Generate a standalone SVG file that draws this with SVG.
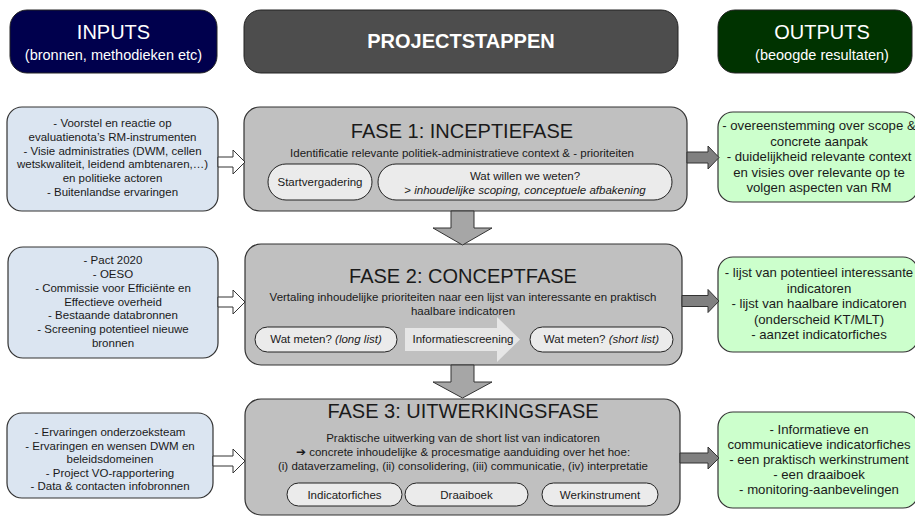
<svg xmlns="http://www.w3.org/2000/svg" width="915" height="517" viewBox="0 0 915 517">
<style>
text{font-family:"Liberation Sans",Arial,sans-serif;fill:#1a1a1a;text-anchor:middle}
.hdr{stroke:#222;stroke-width:1}
.htitle{fill:#fff;font-size:20px}
.hsub{fill:#fff;font-size:14.5px}
.in{fill:#dbe5f1;stroke:#333;stroke-width:1.2}
.out{fill:#ccffcc;stroke:#333;stroke-width:1.2}
.phase{fill:#c0c0c0;stroke:#333;stroke-width:1.2}
.pill{fill:#ebebeb;stroke:#222;stroke-width:1}
.ptitle{font-size:20px}
.psub{font-size:11.5px}
.pt{font-size:11.5px}
.lt{font-size:11.5px}
.rt{font-size:13.2px}
.harrow{fill:#fff;stroke:#333;stroke-width:1}
.rarrow{fill:#808080;stroke:#333;stroke-width:1}
.darrow{fill:#a6a6a6;stroke:#333;stroke-width:1}
</style>
<rect width="915" height="517" fill="#fff"/>

<g id="hdr-inputs">
<rect class="hdr" x="10" y="10" width="207" height="63" rx="17" fill="#00004d"/>
<text class="htitle" x="113.5" y="39">INPUTS</text>
<text class="hsub" x="113.5" y="60">(bronnen, methodieken etc)</text>
</g>
<g id="hdr-project">
<rect class="hdr" x="244" y="10" width="434" height="63" rx="17" fill="#4d4d4d"/>
<text class="htitle" x="461" y="48" font-weight="bold">PROJECTSTAPPEN</text>
</g>
<g id="hdr-outputs">
<rect class="hdr" x="718" y="10" width="194" height="63" rx="17" fill="#003300"/>
<text class="htitle" x="822" y="39">OUTPUTS</text>
<text class="hsub" x="822" y="60">(beoogde resultaten)</text>
</g>

<g id="in1">
<rect class="in" x="7" y="107" width="211" height="104" rx="15"/>
<text class="lt" x="112.5" y="127">- Voorstel en reactie op</text>
<text class="lt" x="112.5" y="141">evaluatienota’s RM-instrumenten</text>
<text class="lt" x="112.5" y="155">- Visie administraties (DWM, cellen</text>
<text class="lt" x="112.5" y="168">wetskwaliteit, leidend ambtenaren,…)</text>
<text class="lt" x="112.5" y="182">en politieke actoren</text>
<text class="lt" x="112.5" y="196">- Buitenlandse ervaringen</text>
</g>
<g id="in2">
<rect class="in" x="8" y="247" width="210" height="111" rx="15"/>
<text class="lt" x="113" y="264">- Pact 2020</text>
<text class="lt" x="113" y="278">- OESO</text>
<text class="lt" x="113" y="292">- Commissie voor Efficiënte en</text>
<text class="lt" x="113" y="305.5">Effectieve overheid</text>
<text class="lt" x="113" y="319">- Bestaande databronnen</text>
<text class="lt" x="113" y="333">- Screening potentieel nieuwe</text>
<text class="lt" x="113" y="346.5">bronnen</text>
</g>
<g id="in3">
<rect class="in" x="7" y="413" width="206" height="85" rx="15"/>
<text class="lt" x="110" y="436">- Ervaringen onderzoeksteam</text>
<text class="lt" x="110" y="449.5">- Ervaringen en wensen DWM en</text>
<text class="lt" x="110" y="463">beleidsdomeinen</text>
<text class="lt" x="110" y="476.5">- Project VO-rapportering</text>
<text class="lt" x="110" y="490">- Data &amp; contacten infobronnen</text>
</g>

<g id="fase1">
<rect class="phase" x="244" y="107" width="443" height="104" rx="16"/>
<text class="ptitle" x="462" y="138">FASE 1: INCEPTIEFASE</text>
<text class="psub" x="462" y="157" font-size="11.3">Identificatie relevante politiek-administratieve context &amp; - prioriteiten</text>
<rect class="pill" x="268" y="164" width="104" height="36" rx="18"/>
<text class="pt" x="320" y="186">Startvergadering</text>
<rect class="pill" x="378" y="164" width="294" height="36" rx="18"/>
<text class="pt" x="525" y="180">Wat willen we weten?</text>
<text class="pt" x="525" y="194">&gt; <tspan font-style="italic">inhoudelijke scoping, conceptuele afbakening</tspan></text>
</g>
<g id="fase2">
<rect class="phase" x="245" y="244" width="437" height="121" rx="16"/>
<text class="ptitle" x="463" y="283">FASE 2: CONCEPTFASE</text>
<text class="psub" x="463" y="301">Vertaling inhoudelijke prioriteiten naar een lijst van interessante en praktisch</text>
<text class="psub" x="463" y="315">haalbare indicatoren</text>
<rect class="pill" x="255" y="327" width="142" height="25" rx="12.5"/>
<text class="pt" x="326" y="343">Wat meten? <tspan font-style="italic">(long list)</tspan></text>
<path d="M405,328 H497 V317 L520,339.5 L497,362 V351 H405 Z" fill="#e6e6e6"/>
<text class="pt" x="463" y="343">Informatiescreening</text>
<rect class="pill" x="530" y="327" width="143" height="25" rx="12.5"/>
<text class="pt" x="601.5" y="343">Wat meten? <tspan font-style="italic">(short list)</tspan></text>
</g>
<g id="fase3">
<rect class="phase" x="245" y="399" width="435" height="116" rx="16"/>
<text class="ptitle" x="463" y="418">FASE 3: UITWERKINGSFASE</text>
<text class="psub" x="463" y="442">Praktische uitwerking van de short list van indicatoren</text>
<text class="psub" x="463" y="456"><tspan font-family="DejaVu Sans" font-size="12" font-weight="bold">➔</tspan> concrete inhoudelijke &amp; procesmatige aanduiding over het hoe:</text>
<text class="psub" x="463" y="470">(i) dataverzameling, (ii) consolidering, (iii) communicatie, (iv) interpretatie</text>
<rect class="pill" x="287" y="483" width="115" height="23" rx="11.5"/>
<text class="pt" x="344.5" y="498.5">Indicatorfiches</text>
<rect class="pill" x="405" y="483" width="123" height="23" rx="11.5"/>
<text class="pt" x="466.5" y="498.5">Draaiboek</text>
<rect class="pill" x="542" y="483" width="116" height="23" rx="11.5"/>
<text class="pt" x="600" y="498.5">Werkinstrument</text>
</g>

<g id="out1">
<rect class="out" x="718" y="112" width="200" height="90" rx="15"/>
<text class="rt" x="819" y="130">- overeenstemming over scope &amp;</text>
<text class="rt" x="819" y="146">concrete aanpak</text>
<text class="rt" x="819" y="161">- duidelijkheid relevante context</text>
<text class="rt" x="819" y="177">en visies over relevante op te</text>
<text class="rt" x="819" y="192">volgen aspecten van RM</text>
</g>
<g id="out2">
<rect class="out" x="718" y="257" width="200" height="95" rx="15"/>
<text class="rt" x="819" y="277">- lijst van potentieel interessante</text>
<text class="rt" x="819" y="292.5">indicatoren</text>
<text class="rt" x="819" y="308">- lijst van haalbare indicatoren</text>
<text class="rt" x="819" y="323.5">(onderscheid KT/MLT)</text>
<text class="rt" x="819" y="339">- aanzet indicatorfiches</text>
</g>
<g id="out3">
<rect class="out" x="718" y="412" width="200" height="96" rx="15"/>
<text class="rt" x="819" y="434">- Informatieve en</text>
<text class="rt" x="819" y="449">communicatieve indicatorfiches</text>
<text class="rt" x="819" y="464">- een praktisch werkinstrument</text>
<text class="rt" x="819" y="479">- een draaiboek</text>
<text class="rt" x="819" y="494">- monitoring-aanbevelingen</text>
</g>

<g id="connectors">
<path class="harrow" d="M218,157 H233 V150 L245,162 L233,174 V167 H218 Z"/>
<path class="harrow" d="M218,297 H233 V290 L245,302 L233,314 V307 H218 Z"/>
<path class="harrow" d="M213,456 H233 V449 L245,461 L233,473 V466 H213 Z"/>
<path class="rarrow" d="M687,152 H708 V146 L719,157.5 L708,169 V163 H687 Z"/>
<path class="rarrow" d="M682,295.5 H708 V289.5 L719,301 L708,312.5 V306.5 H682 Z"/>
<path class="rarrow" d="M680,453 H708 V447 L719,458 L708,469 V463 H680 Z"/>
<path class="darrow" d="M451,211 V228 H433 L462.5,245 L492,228 H474 V211 Z"/>
<path class="darrow" d="M451,365 V382 H433 L462.5,398 L492,382 H474 V365 Z"/>
</g>
</svg>
